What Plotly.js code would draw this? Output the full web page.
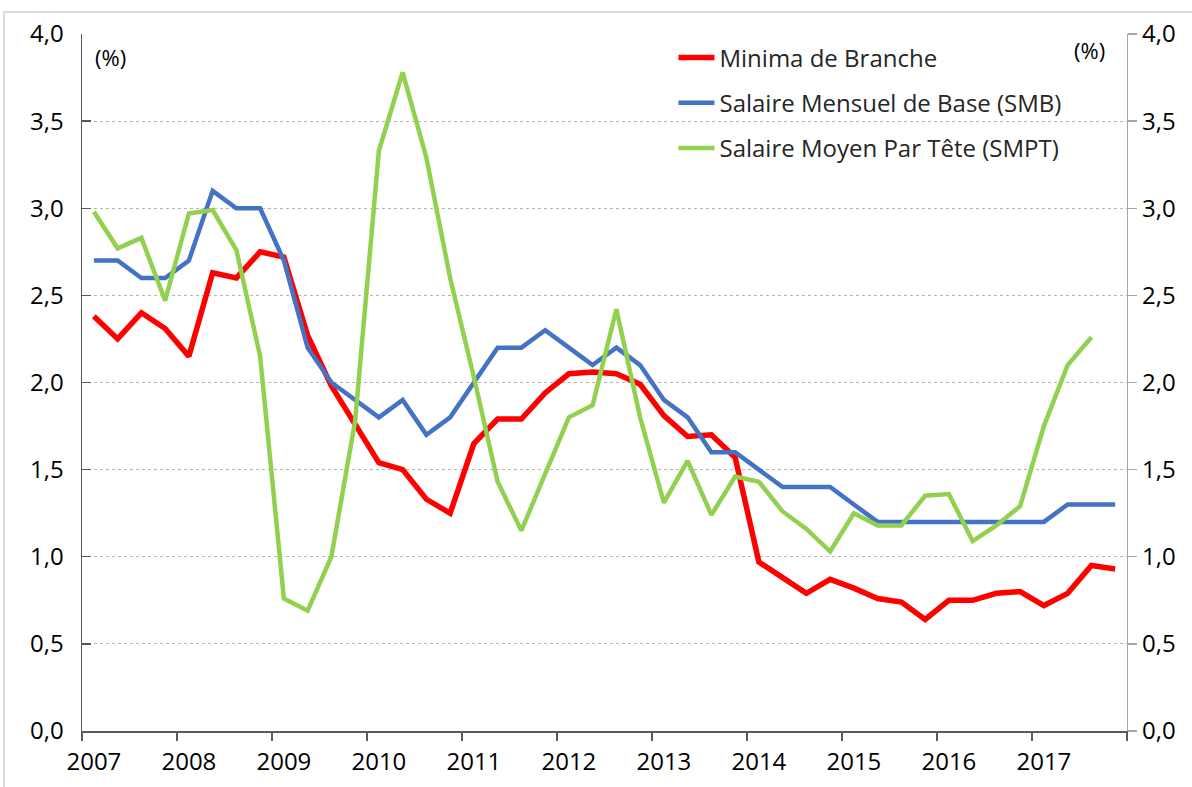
<!DOCTYPE html>
<html>
<head>
<meta charset="utf-8">
<script src="https://cdn.plot.ly/plotly-3.0.1.min.js"></script>
<style>html,body{margin:0;padding:0;background:#fff;}#chart{width:1192px;height:787px;}</style>
</head>
<body>
<div id="chart"></div>
<script>
// Quarterly data, 2007T1 .. 2017T4
const startYear = 2007;
const years = [2007, 2008, 2009, 2010, 2011, 2012, 2013, 2014, 2015, 2016, 2017];
const yearLabels = ["2007", "2008", "2009", "2010", "2011", "2012", "2013", "2014", "2015", "2016", "2017"];
const yTicks = [0, 0.5, 1, 1.5, 2, 2.5, 3, 3.5, 4];

const seriesNames = ["Minima de Branche", "Salaire Mensuel de Base (SMB)", "Salaire Moyen Par Tête (SMPT)"];

const minimaBranche = [
  2.38, 2.25, 2.40, 2.31,
  2.15, 2.63, 2.60, 2.75,
  2.72, 2.27, 1.98, 1.76,
  1.54, 1.50, 1.33, 1.25,
  1.65, 1.79, 1.79, 1.94,
  2.05, 2.06, 2.05, 1.99,
  1.81, 1.69, 1.70, 1.57,
  0.97, 0.88, 0.79, 0.87,
  0.82, 0.76, 0.74, 0.64,
  0.75, 0.75, 0.79, 0.80,
  0.72, 0.79, 0.95, 0.93
];
const smb = [
  2.7, 2.7, 2.6, 2.6,
  2.7, 3.1, 3.0, 3.0,
  2.7, 2.2, 2.0, 1.9,
  1.8, 1.9, 1.7, 1.8,
  2.0, 2.2, 2.2, 2.3,
  2.2, 2.1, 2.2, 2.1,
  1.9, 1.8, 1.6, 1.6,
  1.5, 1.4, 1.4, 1.4,
  1.3, 1.2, 1.2, 1.2,
  1.2, 1.2, 1.2, 1.2,
  1.2, 1.3, 1.3, 1.3
];
const smpt = [
  2.98, 2.77, 2.83, 2.47,
  2.97, 2.99, 2.76, 2.15,
  0.76, 0.69, 1.00, 1.78,
  3.33, 3.78, 3.29, 2.60,
  2.03, 1.43, 1.15, 1.48,
  1.80, 1.87, 2.42, 1.80,
  1.31, 1.55, 1.24, 1.46,
  1.43, 1.26, 1.16, 1.03,
  1.25, 1.18, 1.18, 1.35,
  1.36, 1.09, 1.18, 1.29,
  1.75, 2.10, 2.26
];

const colors = ["#FF0000", "#4472C4", "#92D050"];
const widths = [5.5, 4.5, 4.5];

// quarter midpoints on a continuous year axis
const qx = (arr) => arr.map((_, i) => startYear + (i + 0.5) / 4);
const boundaries = years.concat([years[years.length - 1] + 1]);

const FONT = "Open Sans, Noto Sans, sans-serif";

const traces = [minimaBranche, smb, smpt].map((vals, k) => ({
  type: "scatter",
  mode: "lines",
  x: qx(vals),
  y: vals,
  name: seriesNames[k],
  legendgroup: "g" + k,
  line: {color: colors[k], width: widths[k]},
  yaxis: k === 2 ? "y2" : "y",
  hoverinfo: "x+y+name"
}));

const layout = {
  width: 1192,
  height: 787,
  autosize: false,
  separators: ", ",
  paper_bgcolor: "#ffffff",
  plot_bgcolor: "#ffffff",
  margin: {l: 82, r: 64.6, t: 34, b: 56, pad: 0},
  font: {family: FONT, size: 24, color: "#000000"},
  showlegend: true,
  legend: {
    x: 0.566, y: 0.998, xanchor: "left", yanchor: "top",
    bgcolor: "rgba(0,0,0,0)",
    font: {family: FONT, size: 24, color: "#262626"},
    traceorder: "grouped",
    tracegroupgap: 11,
    itemwidth: 36
  },
  xaxis: {
    range: [startYear, years[years.length - 1] + 1],
    tickmode: "array",
    tickvals: years.map(y => y + 0.125),
    ticktext: yearLabels,
    ticks: "",
    ticklabelstandoff: 9,
    tickfont: {family: FONT, size: 24, color: "#000000"},
    showline: true, linecolor: "#595959", linewidth: 1.5,
    showgrid: false, zeroline: false,
    minor: {tickmode: "array", tickvals: boundaries, ticks: "outside", ticklen: 8, tickwidth: 1.3, tickcolor: "#595959", showgrid: false}
  },
  xaxis2: {
    overlaying: "x", anchor: "y", side: "bottom",
    range: [startYear, years[years.length - 1] + 1],
    tickmode: "array", tickvals: boundaries,
    ticks: "inside", ticklen: 8, tickwidth: 1.3, tickcolor: "#595959",
    showticklabels: false, showline: false, showgrid: false, zeroline: false
  },
  yaxis: {
    range: [0, 4],
    tickmode: "array", tickvals: yTicks, tickformat: ".1f",
    ticks: "inside", ticklen: 9, tickwidth: 1.3, tickcolor: "#595959",
    ticklabelstandoff: 12,
    tickfont: {family: FONT, size: 24, color: "#000000"},
    showline: true, linecolor: "#595959", linewidth: 1.5,
    showgrid: true, gridcolor: "#b4b4b4", gridwidth: 1, griddash: "3px,3px",
    zeroline: false
  },
  yaxis2: {
    overlaying: "y", side: "right", anchor: "x",
    range: [0, 4],
    tickmode: "array", tickvals: yTicks, tickformat: ".1f",
    ticks: "outside", ticklen: 9, tickwidth: 1.3, tickcolor: "#a6a6a6",
    tickfont: {family: FONT, size: 24, color: "#000000"},
    showline: true, linecolor: "#a6a6a6", linewidth: 1.3,
    showgrid: false, zeroline: false
  },
  annotations: [
    {xref: "paper", yref: "paper", x: 0.0268, y: 0.967, xanchor: "center", yanchor: "middle",
     text: "(%)", showarrow: false, font: {family: FONT, size: 22, color: "#000000"}},
    {xref: "paper", yref: "paper", x: 0.964, y: 0.977, xanchor: "center", yanchor: "middle",
     text: "(%)", showarrow: false, font: {family: FONT, size: 22, color: "#000000"}}
  ],
  shapes: [
    {type: "rect", xref: "paper", yref: "paper", x0: -0.0746, x1: 1.3, y0: -0.2, y1: 1.0316,
     line: {color: "#d0d0d0", width: 1.5}, fillcolor: "rgba(0,0,0,0)", layer: "below"}
  ]
};

Plotly.newPlot("chart", traces, layout, {displayModeBar: false, staticPlot: true});
</script>
</body>
</html>
